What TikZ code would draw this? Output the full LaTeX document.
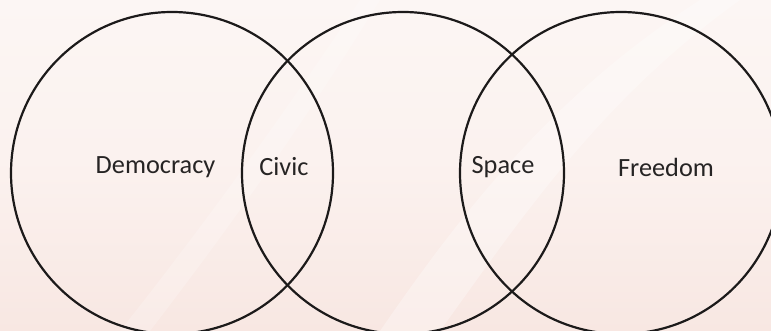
\documentclass[tikz,border=0pt]{standalone}
\usepackage{fontspec}
\setmainfont{Carlito}
\definecolor{bgtop}{HTML}{FCF6F4}
\definecolor{bgbot}{HTML}{F8E7E2}
\definecolor{ink}{HTML}{1C1A1A}
\definecolor{txt}{HTML}{262424}
\tikzset{
  venn/.style={draw=ink, line width=2.2pt},
  lbl/.style={font=\fontsize{26.3}{31}\selectfont, text=txt, inner sep=0pt, anchor=center}
}
\begin{document}
\begin{tikzpicture}[x=1pt,y=-1pt]
\useasboundingbox (0,0) rectangle (771,331);
\clip (0,0) rectangle (771,331);
\shade[top color=bgtop, bottom color=bgbot, middle color=bgtop!70!bgbot] (0,0) rectangle (771,331);
\fill[white, opacity=0.3] (380,331) .. controls (470,200) and (560,90) .. (700,0) -- (740,0) .. controls (600,100) and (520,220) .. (440,331) -- cycle;
\fill[white, opacity=0.2] (120,331) .. controls (200,230) and (280,120) .. (360,0) -- (380,0) .. controls (300,130) and (220,240) .. (150,331) -- cycle;
\node[venn, circle, minimum size=322pt, inner sep=0pt] (c1) at (172,173) {};
\node[venn, circle, minimum size=322pt, inner sep=0pt] (c2) at (403,173) {};
\node[venn, circle, minimum size=322pt, inner sep=0pt] (c3) at (621,173) {};
\node[lbl] (t1) at (155.5,167) {Democracy};
\node[lbl] (t2) at (284,167) {Civic};
\node[lbl] (t3) at (503,167) {Space};
\node[lbl] (t4) at (666,167) {Freedom};
\end{tikzpicture}
\end{document}
